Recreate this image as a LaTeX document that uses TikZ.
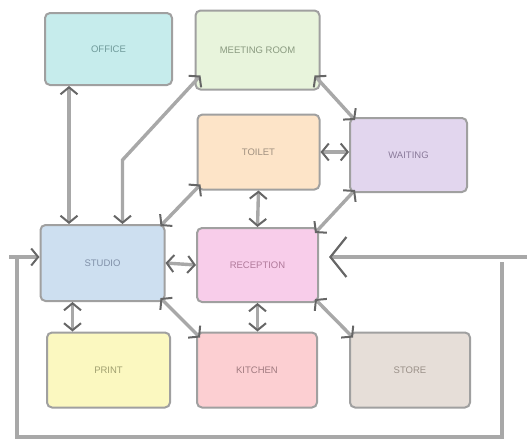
\documentclass[tikz,border=0pt]{standalone}
\usepackage{fontspec}
\setmainfont{Liberation Sans}
\usetikzlibrary{arrows.meta,calc}
\definecolor{lnk}{HTML}{A8A8A8}
\definecolor{tip}{HTML}{666666}
\definecolor{bord}{HTML}{A0A0A0}
\definecolor{officeF}{HTML}{C6ECEC}\definecolor{officeT}{HTML}{6F9A9A}
\definecolor{meetF}{HTML}{E8F4DC}\definecolor{meetT}{HTML}{8A9A80}
\definecolor{toiletF}{HTML}{FDE4C8}\definecolor{toiletT}{HTML}{A09080}
\definecolor{waitF}{HTML}{E2D6EE}\definecolor{waitT}{HTML}{8A7A9A}
\definecolor{studioF}{HTML}{CDDFF0}\definecolor{studioT}{HTML}{8090A8}
\definecolor{recF}{HTML}{F8CDEA}\definecolor{recT}{HTML}{B07A9A}
\definecolor{printF}{HTML}{FBF8C0}\definecolor{printT}{HTML}{A0A070}
\definecolor{kitF}{HTML}{FCCFD2}\definecolor{kitT}{HTML}{A07A80}
\definecolor{storeF}{HTML}{E6DED8}\definecolor{storeT}{HTML}{9A9088}
\tikzset{
  room/.style={draw=bord, line width=2pt, rounded corners=5pt, minimum width=#1, inner sep=0pt, font=\fontsize{9.5}{10}\selectfont},
  barb/.tip={Straight Barb[length=7pt,width=17pt,color=tip,line width=2pt]},
  bigbarb/.tip={Straight Barb[length=16pt,width=40pt,color=tip,line width=2.2pt]},
  link/.style={draw=lnk, line width=3.4pt, barb-barb},
  wire/.style={draw=lnk, line width=3.4pt},
}
\begin{document}
\begin{tikzpicture}[x=1pt,y=-1pt]
\useasboundingbox (0,0) rectangle (527,447);
\node[room=127pt, minimum height=72pt, fill=officeF, text=officeT] (office) at (108.5,49) {OFFICE};
\node[room=124pt, minimum height=79pt, fill=meetF, text=meetT] (meeting) at (257.5,50) {MEETING ROOM};
\node[room=122pt, minimum height=75pt, fill=toiletF, text=toiletT] (toilet) at (258.5,152) {TOILET};
\node[room=117pt, minimum height=74pt, fill=waitF, text=waitT] (waiting) at (408.5,155) {WAITING};
\node[room=124pt, minimum height=76pt, fill=studioF, text=studioT] (studio) at (102.5,263) {STUDIO};
\node[room=121pt, minimum height=74pt, fill=recF, text=recT] (reception) at (257.5,265) {RECEPTION};
\node[room=123pt, minimum height=75pt, fill=printF, text=printT] (print) at (108.5,370) {PRINT};
\node[room=120pt, minimum height=75pt, fill=kitF, text=kitT] (kitchen) at (257,370) {KITCHEN};
\node[room=120pt, minimum height=75pt, fill=storeF, text=storeT] (store) at (410,370) {STORE};
% connectors
\draw[link] ([xshift=25pt]office.south west) -- ([xshift=25pt]office.south west |- studio.north);
\coordinate (bend) at ([xshift=20pt]studio.north |- 0,160);
\draw[link] ([xshift=20pt]studio.north) -- (bend) -- ([xshift=6pt,yshift=15pt]meeting.south west);
\draw[link] ([xshift=-6pt,yshift=15pt]meeting.south east) -- ([xshift=6pt,yshift=-3pt]waiting.north west);
\draw[link] (toilet.east) -- (toilet.east -| waiting.west);
\draw[link] ([xshift=6pt,yshift=3pt]waiting.south west) -- ([xshift=-4pt,yshift=-6pt]reception.north east);
\draw[link] (toilet.south) -- (reception.north);
\draw[link] ([xshift=4pt,yshift=6pt]toilet.south west) -- ([xshift=-5pt,yshift=-2pt]studio.north east);
\draw[link] (studio.east) -- (reception.west);
\draw[link] ([xshift=-30pt]studio.south) -- ([xshift=-30pt]studio.south |- print.north);
\draw[link] ([xshift=-5pt,yshift=4pt]studio.south east) -- ([xshift=4pt,yshift=-6pt]kitchen.north west);
\draw[link] (reception.south) -- (reception.south |- kitchen.north);
\draw[link] ([xshift=-4pt,yshift=4pt]reception.south east) -- ([xshift=4pt,yshift=-6pt]store.north west);
% outer loop
\coordinate (lstart) at (9,257);
\coordinate (ltop) at (17,255);
\coordinate (lbl) at (17,437);
\coordinate (lbr) at (502,437);
\coordinate (lrt) at (502,262);
\coordinate (rend) at (527,257);
\draw[wire, -barb] (lstart) -- ([yshift=6pt]studio.west);
\draw[wire] (ltop) -- (lbl) -- (lbr) -- (lrt);
\draw[wire, -bigbarb] (rend) -- ([yshift=8pt,xshift=10pt]reception.east);
\end{tikzpicture}
\end{document}
